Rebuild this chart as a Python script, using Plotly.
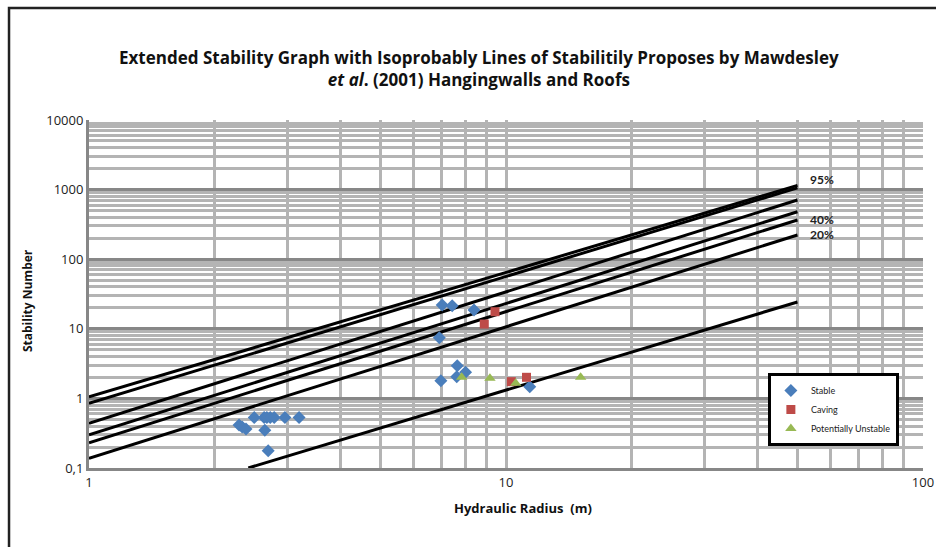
import math
import plotly.graph_objects as go

# ---------------- data ----------------
stable_x = [2.29, 2.33, 2.38, 2.49, 2.63, 2.64, 2.67, 2.69, 2.72, 2.78, 2.95, 3.19,
            6.92, 6.98, 7.03, 7.43, 7.62, 7.64, 8.0, 8.38, 11.4]
stable_y = [0.415, 0.388, 0.363, 0.53, 0.53, 0.35, 0.53, 0.177, 0.53, 0.53, 0.53, 0.53,
            7.45, 1.80, 22.0, 21.5, 2.05, 2.95, 2.37, 18.6, 1.47]

caving_x = [8.87, 9.41, 10.3, 11.2]
caving_y = [11.7, 17.6, 1.74, 2.01]

unstable_x = [7.83, 9.15, 10.55, 15.1]
unstable_y = [2.01, 1.94, 1.65, 2.01]

# isoprobability lines: start/end points (hydraulic radius, stability number)
iso_x = [[1, 50], [1, 50], [1, 50], [1, 50], [1, 50], [1, 50], [2.41, 50]]
iso_y = [[1.05, 1150], [0.85, 1060], [0.44, 709], [0.30, 481], [0.23, 366],
         [0.138, 223], [0.1, 24.3]]

iso_labels = ["95%", "40%", "20%"]
iso_label_x = [53, 53, 53]
iso_label_y = [1420, 374, 230]

x_ticks = [1, 10, 100]
x_ticktext = ["1", "10", "100"]
y_ticks = [0.1, 1, 10, 100, 1000, 10000]
y_ticktext = ["0,1", "1", "10", "100", "1000", "10000"]

# ---------------- figure ----------------
fig = go.Figure()

for xs, ys in zip(iso_x, iso_y):
    fig.add_trace(go.Scatter(x=xs, y=ys, mode="lines",
                             line=dict(color="black", width=3),
                             showlegend=False, hoverinfo="skip"))

fig.add_trace(go.Scatter(x=stable_x, y=stable_y, mode="markers", name="Stable",
                         marker=dict(symbol="diamond", size=10, color="#4a7ebb")))
fig.add_trace(go.Scatter(x=caving_x, y=caving_y, mode="markers", name="Caving",
                         marker=dict(symbol="square", size=9, color="#be4b48")))
fig.add_trace(go.Scatter(x=unstable_x, y=unstable_y, mode="markers",
                         name="Potentially Unstable",
                         marker=dict(symbol="triangle-up", size=10, color="#98b954")))

for t, lx, ly in zip(iso_labels, iso_label_x, iso_label_y):
    fig.add_annotation(x=math.log10(lx), y=math.log10(ly), text="<b>" + t + "</b>",
                       showarrow=False, xanchor="left", yanchor="middle",
                       font=dict(family="Lato", size=12, color="#222"))

fig.add_annotation(xref="paper", yref="paper", x=0.4676, y=1.149,
                   text="<b>Extended Stability Graph with Isoprobably Lines of Stabilitily Proposes by Mawdesley"
                        "<br><i>et al</i>. (2001) Hangingwalls and Roofs</b>",
                   showarrow=False, xanchor="center", yanchor="middle",
                   font=dict(family="Open Sans", size=17, color="#111"))

fig.add_annotation(xref="paper", yref="paper", x=0.520, y=-0.115,
                   text="<b>Hydraulic Radius  (m)</b>", showarrow=False,
                   xanchor="center", yanchor="middle",
                   font=dict(family="Open Sans", size=13, color="#111"))
fig.add_annotation(xref="paper", yref="paper", x=-0.073, y=0.48,
                   text="<b>Stability Number</b>", showarrow=False, textangle=-90,
                   xanchor="center", yanchor="middle",
                   font=dict(family="Open Sans", size=12, color="#111"))

# outer chart frame
fig.add_shape(type="rect", xref="paper", yref="paper",
              x0=-0.0959, x1=1.03, y0=-0.25, y1=1.322,
              line=dict(color="#222", width=2.5), layer="above")

fig.update_xaxes(type="log", range=[0, 2], tickvals=x_ticks, ticktext=x_ticktext,
                 showgrid=True, gridcolor="#b4b4b4", gridwidth=2.5,
                 minor=dict(dtick="D1", showgrid=True, gridcolor="#b4b4b4", gridwidth=2.5),
                 showline=True, linecolor="#878787", linewidth=3,
                 ticks="", zeroline=False, automargin=False,
                 tickfont=dict(family="Open Sans", size=13, color="#222"))
fig.update_yaxes(type="log", range=[-1, 4], tickvals=y_ticks, ticktext=y_ticktext,
                 showgrid=True, gridcolor="#878787", gridwidth=3,
                 minor=dict(dtick="D1", showgrid=True, gridcolor="#b4b4b4", gridwidth=2.5),
                 showline=True, linecolor="#878787", linewidth=3,
                 ticks="", zeroline=False, automargin=False,
                 tickfont=dict(family="Open Sans", size=13, color="#222"))

fig.update_layout(
    width=936, height=547,
    margin=dict(l=89, r=13, t=120, b=79, autoexpand=False),
    paper_bgcolor="white", plot_bgcolor="white",
    showlegend=True,
    legend=dict(x=0.814, y=0.273, xanchor="left", yanchor="top",
                bgcolor="white", bordercolor="black", borderwidth=3,
                font=dict(family="Lato", size=9, color="#222"),
                itemwidth=30, tracegroupgap=0),
)

# remove the default page margin so the 936x547 figure fills the window exactly
fig.write_html("out.html",
               config={"displayModeBar": False},
               post_script="document.body.style.margin='0';"
                           "document.documentElement.style.overflow='hidden';")
